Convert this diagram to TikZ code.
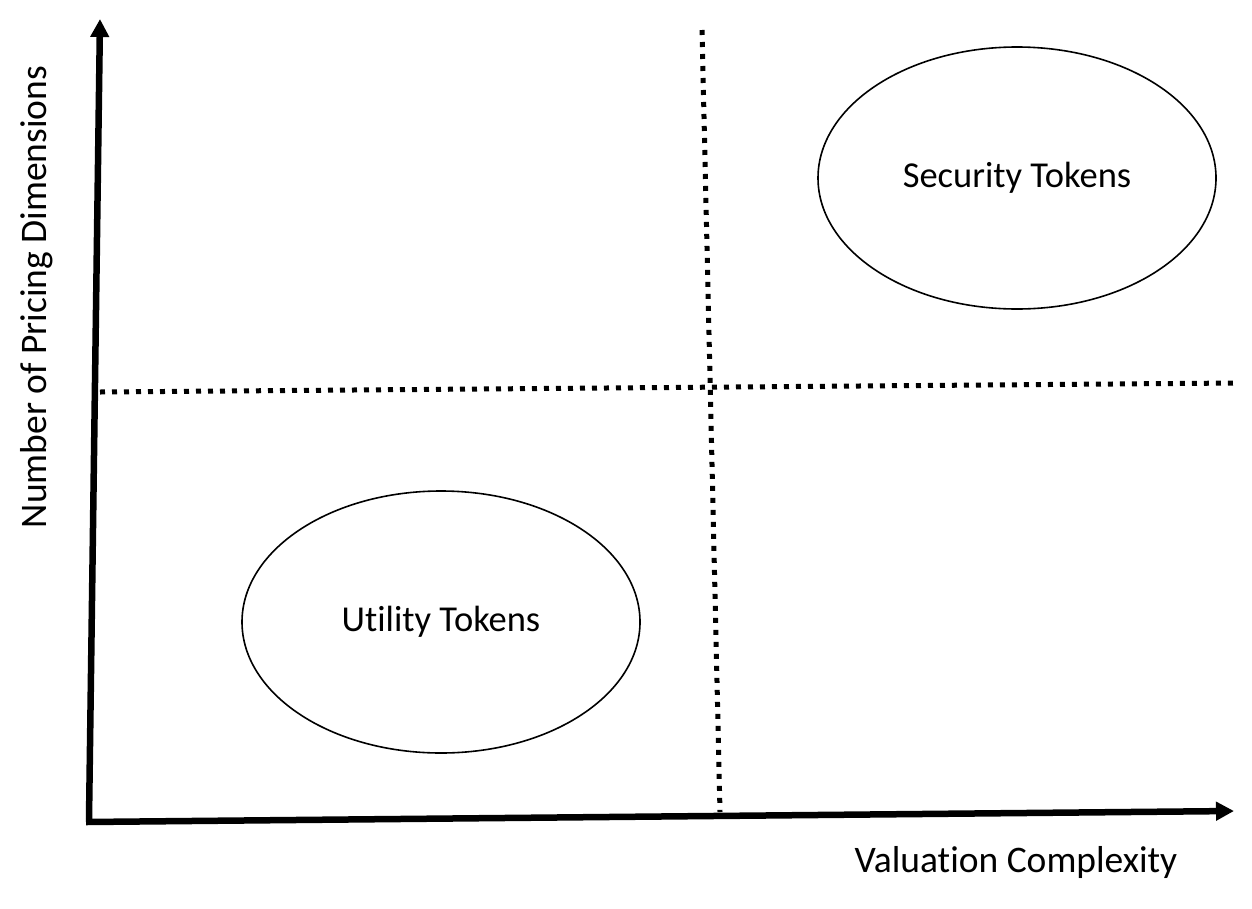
\documentclass[tikz,border=0pt]{standalone}
\usepackage{fontspec}
\setmainfont{Carlito}[Ligatures=NoCommon]
\usetikzlibrary{arrows.meta,shapes.geometric}
\begin{document}
\begin{tikzpicture}[x=1pt,y=-1pt,
  axis/.style={line width=6.5pt, -{Triangle[length=18pt,width=18pt]}},
  divider/.style={line width=5pt, dash pattern=on 5pt off 7pt},
  cluster/.style={ellipse, draw, line width=1.6pt, minimum width=398pt, minimum height=262pt, inner sep=0pt, font=\fontsize{36.5}{44}\selectfont},
  lbl/.style={font=\fontsize{37.5}{45}\selectfont, inner sep=0pt}]
\useasboundingbox (0,0) rectangle (1252,908);
\coordinate (O) at (89,822);
\coordinate (Ytop) at (100,19);
\coordinate (Xend) at (1234,811);
\coordinate (Htl) at (100,392);
\coordinate (Hr) at (1238,383);
\coordinate (Vt) at (702,30);
\coordinate (Vb) at (720,812);
\draw[divider] (Htl) -- (Hr);
\draw[divider] (Vt) -- (Vb);
\draw[axis, line cap=butt] ([yshift=3pt]O) -- (Ytop);
\draw[axis] ([xshift=-3pt]O) -- (Xend);
\node[cluster] (sec) at (1017,178) {Security Tokens};
\node[cluster] (util) at (441,622) {Utility Tokens};
\node[lbl] (xl) at (1016,862) {Valuation Complexity};
\node[lbl, rotate=90] (yl) at (37,297) {Number of Pricing Dimensions};
\end{tikzpicture}
\end{document}
